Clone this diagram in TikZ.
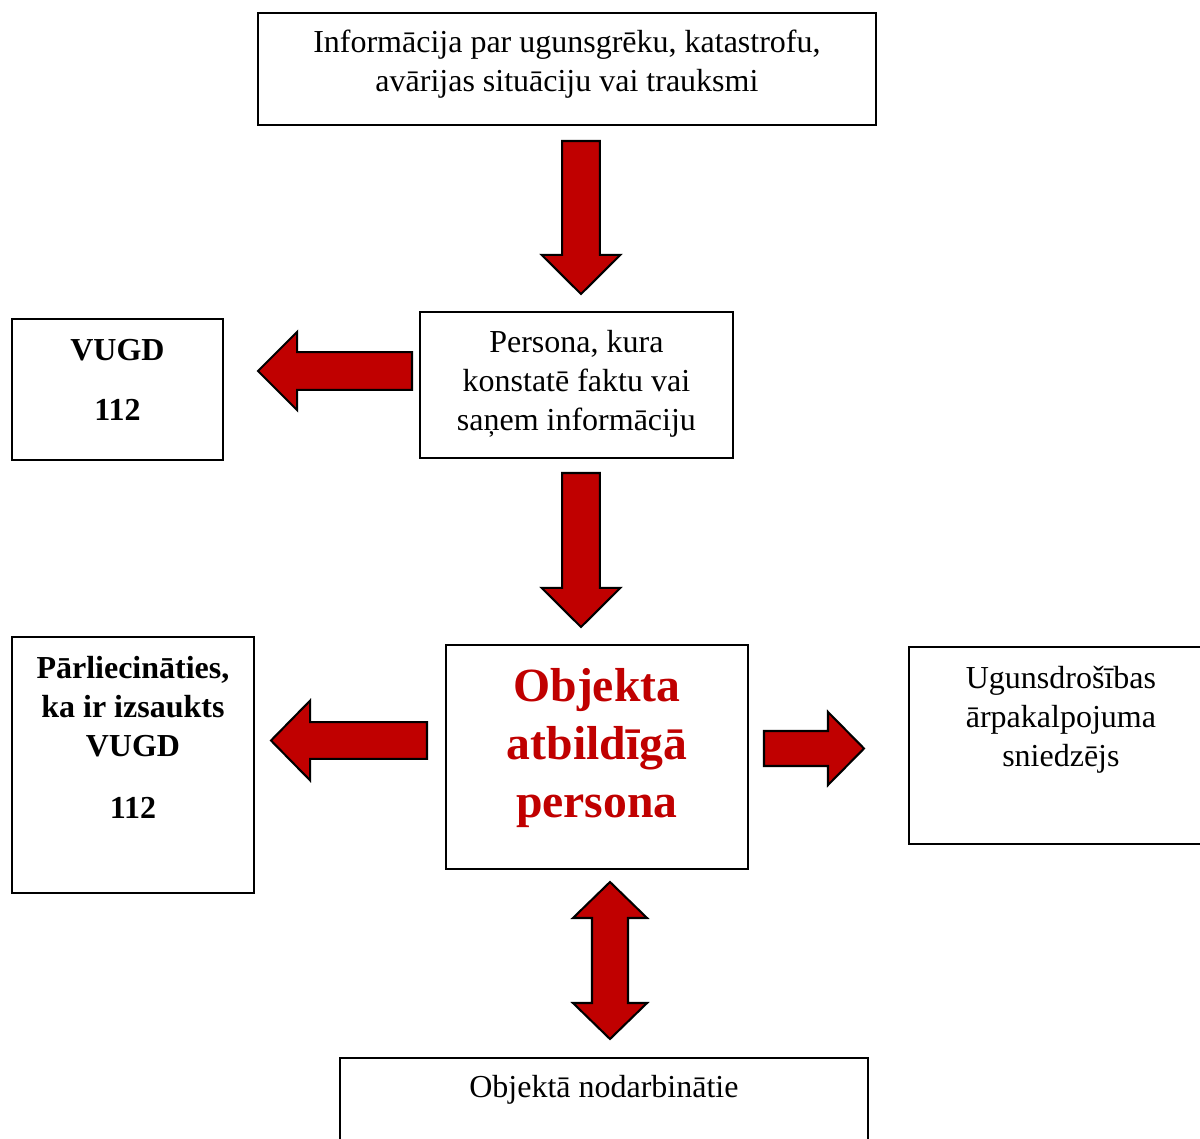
\documentclass[tikz,border=0pt]{standalone}
\usepackage{fontspec}
\setmainfont{Liberation Serif}
\usepackage{xcolor}
\usepackage{tikz}
\usetikzlibrary{calc, positioning}

\definecolor{objred}{HTML}{C00000}
\newlength{\pxu}
\setlength{\pxu}{0.386pt}
% width, height, first baseline, text
\newcommand{\boxtext}[4]{\parbox[c][#2][t]{#1}{\centering\rule{0pt}{#3}#4\par}}
% from, to, half shaft, half head, head length
\newcommand{\blockarrow}[5]{%
  \coordinate (ba-h) at ($(#2)!#5!(#1)$);
  \draw[redarrow] ($(#1)!#3!90:(#2)$) -- ($(ba-h)!#3!90:(#2)$) -- ($(ba-h)!#4!90:(#2)$) -- (#2)
    -- ($(ba-h)!#4!-90:(#2)$) -- ($(ba-h)!#3!-90:(#2)$) -- ($(#1)!#3!-90:(#2)$) -- cycle;}
\newcommand{\dblblockarrow}[5]{%
  \coordinate (da-a) at ($(#1)!#5!(#2)$);
  \coordinate (da-b) at ($(#2)!#5!(#1)$);
  \draw[redarrow] (#1) -- ($(da-a)!#4!90:(#2)$) -- ($(da-a)!#3!90:(#2)$) -- ($(da-b)!#3!90:(#2)$)
    -- ($(da-b)!#4!90:(#2)$) -- (#2) -- ($(da-b)!#4!-90:(#2)$) -- ($(da-b)!#3!-90:(#2)$)
    -- ($(da-a)!#3!-90:(#2)$) -- ($(da-a)!#4!-90:(#2)$) -- cycle;}

\tikzset{
  box/.style={draw, line width=0.7pt, inner sep=0pt, anchor=north west, font=\fontsize{12.35pt}{15pt}\selectfont},
  boldbox/.style={box, font=\fontsize{12.35pt}{15pt}\selectfont\bfseries},
  redarrow/.style={draw=black, fill=objred, line width=0.8pt, line join=miter},
}

\begin{document}
\begin{tikzpicture}[x=0.386pt, y=-0.386pt]
  \useasboundingbox (0,0) rectangle (1200,1139);
  \clip (0,0) rectangle (1200,1139);
  % boxes
  \node[box] (info) at (257,12) {\boxtext{618\pxu}{112\pxu}{40\pxu}{Informācija par ugunsgrēku, katastrofu,\\avārijas situāciju vai trauksmi}};
  \node[box] (persona) at (419,311) {\boxtext{313\pxu}{146\pxu}{41\pxu}{Persona, kura\\konstatē faktu vai\\saņem informāciju}};
  \node[boldbox] (vugd) at (11,318) {\boxtext{211\pxu}{141\pxu}{42\pxu}{VUGD\\[21\pxu]112}};
  \node[boldbox] (parl) at (11,636) {\boxtext{242\pxu}{256\pxu}{42\pxu}{Pārliecināties,\\ka ir izsaukts\\VUGD\\[23\pxu]112}};
  \node[box, text=objred, font=\fontsize{18.4pt}{22.4pt}\selectfont\bfseries] (obj) at (445,644)
    {\boxtext{302\pxu}{224\pxu}{57\pxu}{Objekta\\atbildīgā\\persona}};
  \node[box] (ugun) at (908,646) {\boxtext{304\pxu}{197\pxu}{42\pxu}{Ugunsdrošības\\ārpakalpojuma\\sniedzējs}};
  \node[box] (staff) at (339,1057) {\boxtext{528\pxu}{120\pxu}{40\pxu}{Objektā nodarbinātie}};
  % arrows
  \coordinate (a1s) at (581,141);
  \coordinate (a1e) at (581,294);
  \coordinate (a2s) at (581,473);
  \coordinate (a2e) at (581,627);
  \coordinate (l1s) at (412,371);
  \coordinate (l1e) at (258,371);
  \coordinate (l2s) at (427,740.5);
  \coordinate (l2e) at (271,740.5);
  \coordinate (r1s) at (764,748.5);
  \coordinate (r1e) at (864,748.5);
  \coordinate (d1s) at (610,882);
  \coordinate (d1e) at (610,1039);
  \blockarrow{a1s}{a1e}{7.3pt}{15.2pt}{15.1pt}
  \blockarrow{a2s}{a2e}{7.3pt}{15.2pt}{15.1pt}
  \blockarrow{l1s}{l1e}{7.3pt}{15.1pt}{15.1pt}
  \blockarrow{l2s}{l2e}{7.1pt}{15.4pt}{15.1pt}
  \blockarrow{r1s}{r1e}{6.75pt}{14.1pt}{13.9pt}
  \dblblockarrow{d1s}{d1e}{6.95pt}{14.3pt}{13.9pt}
\end{tikzpicture}
\end{document}
